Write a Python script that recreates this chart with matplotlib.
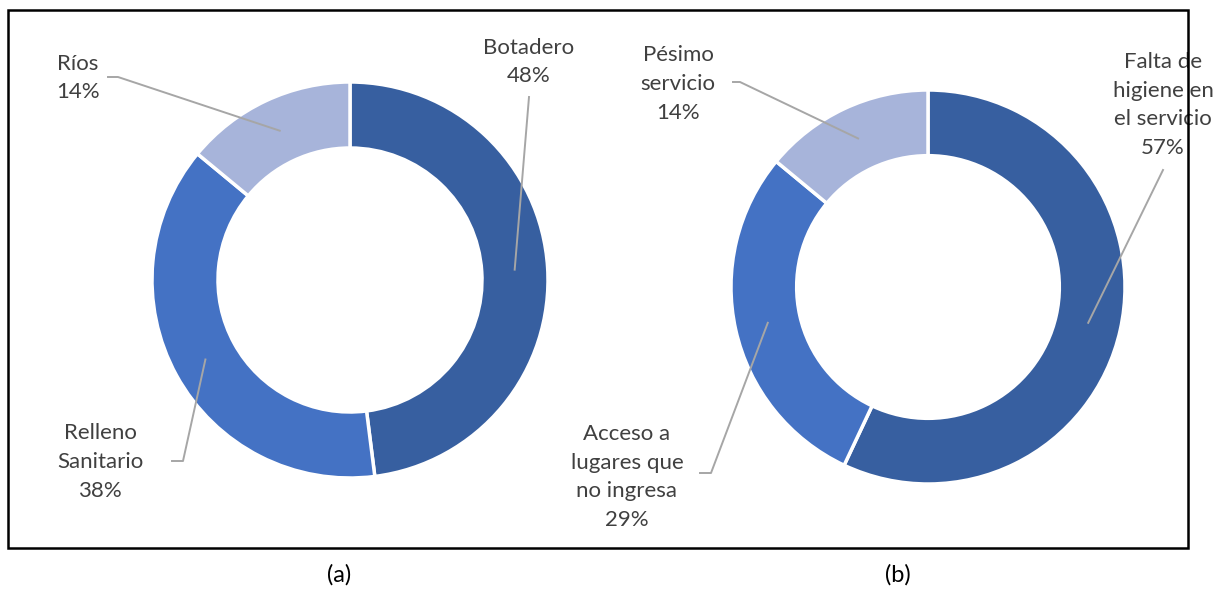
import matplotlib.pyplot as plt
import numpy as np
from matplotlib.patches import Rectangle

plt.rcParams["font.family"] = ["Lato", "DejaVu Sans"]

# data
labels_a = ["Botadero", "Relleno\nSanitario", "Ríos"]
values_a = [48, 38, 14]
labels_b = ["Falta de\nhigiene en\nel servicio", "Acceso a\nlugares que\nno ingresa", "Pésimo\nservicio"]
values_b = [57, 29, 14]
colors = ["#375FA0", "#4472C4", "#A7B4DA"]

W, H = 1221, 590
TXT = "#404040"
LEAD = "#A6A6A6"


def py(y):
    # pixel row (from top) -> data y
    return H - y


fig = plt.figure(figsize=(W / 100, H / 100), dpi=100)
ax = fig.add_axes([0, 0, 1, 1])


def donut(values, labels, center, radius, label_pos, elbows):
    width = radius / 3
    wedges, _ = ax.pie(values, colors=colors, startangle=90, counterclock=False,
                       center=center, radius=radius, frame=True,
                       wedgeprops=dict(width=width, edgecolor="white", linewidth=2.5))
    for w, v, lab, (tx, ty), elbow in zip(wedges, values, labels, label_pos, elbows):
        ang = np.deg2rad((w.theta1 + w.theta2) / 2)
        r = radius - width / 2
        ex, ey = center[0] + r * np.cos(ang), center[1] + r * np.sin(ang)
        xs = [p[0] for p in elbow] + [ex]
        ys = [py(p[1]) for p in elbow] + [ey]
        ax.plot(xs, ys, color=LEAD, lw=1.4, zorder=3)
        ax.text(tx, py(ty), f"{lab}\n{v}%", ha="center", va="center",
                color=TXT, fontsize=16, linespacing=1.55, zorder=4)


donut(values_a, labels_a, (350, py(280)), 198,
      [(529, 62), (100, 462), (78, 78)],
      [[(529, 97)], [(172, 461), (183, 461)], [(108, 77), (118, 77)]])

donut(values_b, labels_b, (928, py(287)), 197,
      [(1163, 105), (627, 477), (678, 84)],
      [[(1163, 170)], [(700, 473), (711, 473)], [(733, 82), (740, 82)]])

ax.set_xlim(0, W)
ax.set_ylim(0, H)
ax.set_aspect("equal")
ax.axis("off")

ax.add_patch(Rectangle((8, py(548)), 1180, 538, fill=False, edgecolor="black",
                       lw=1.8, zorder=5))
ax.text(339, py(575), "(a)", ha="center", va="center", fontsize=17, color="black")
ax.text(898, py(575), "(b)", ha="center", va="center", fontsize=17, color="black")

fig.savefig("out.png", dpi=100)
